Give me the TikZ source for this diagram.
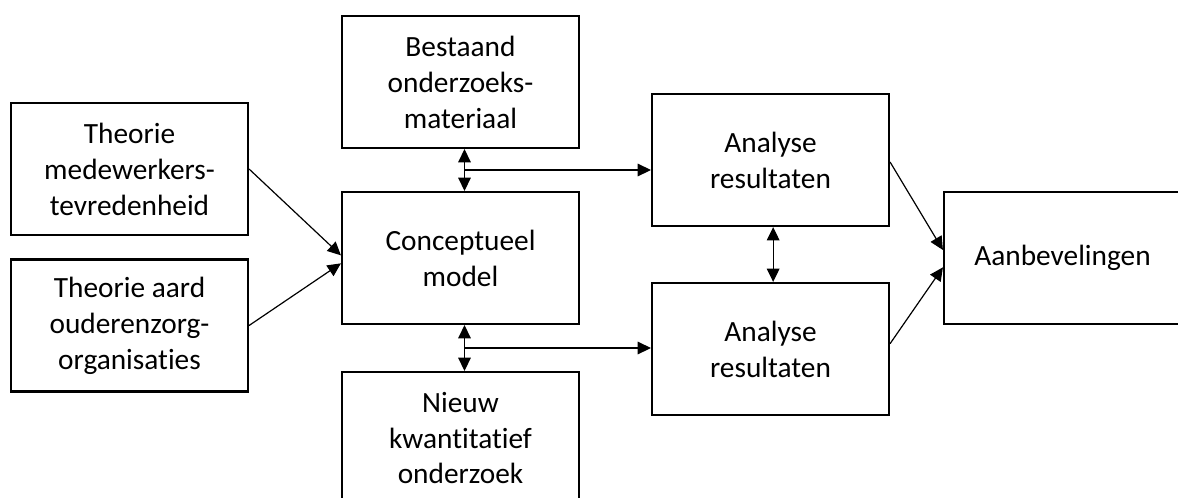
\documentclass[tikz,border=0pt]{standalone}
\usepackage{fontspec}
\setmainfont{Carlito}[Ligatures=NoCommon]
\usetikzlibrary{arrows.meta,positioning,calc}

\tikzset{
  blok/.style={draw, line width=1.6pt, minimum width=177.75pt, minimum height=99pt,
    align=center, inner sep=0pt, font=\fontsize{22}{27}\selectfont},
  pijl/.style={line width=0.9pt, -{Triangle[length=10pt,width=9.5pt]}},
  dubbel/.style={line width=0.9pt, {Triangle[length=10pt,width=9.5pt]}-{Triangle[length=10pt,width=9.5pt]}},
}

\begin{document}
\begin{tikzpicture}[x=0.75pt, y=-0.75pt]
  \clip (0,0) rectangle (1178,497);
  % theorie
  \node[blok] (theo1) at (129.5,169) {Theorie\\medewerkers-\\tevredenheid};
  \node[blok] (theo2) at (129.5,325.5) {Theorie aard\\ouderenzorg-\\organisaties};
  % midden
  \node[blok] (bestaand) at (460.5,82) {Bestaand\\onderzoeks-\\materiaal};
  \node[blok] (concept) at (460.5,258) {Conceptueel\\model};
  \node[blok] (nieuw) at (460.5,438) {Nieuw\\kwantitatief\\onderzoek};
  % analyse
  \node[blok] (ana1) at (770.5,160) {Analyse\\resultaten};
  \node[blok] (ana2) at (770.5,349) {Analyse\\resultaten};
  \node[blok] (aanb) at (1062.5,258) {Aanbevelingen};

  \draw[pijl] (theo1.east) -- ([yshift=2pt]concept.west);
  \draw[pijl] (theo2.east) -- ([yshift=-4pt]concept.west);

  \coordinate (m1) at ($(bestaand.south)!0.5!(concept.north)$);
  \coordinate (m2) at ($(concept.south)!0.5!(nieuw.north)$);
  \draw[dubbel] ([xshift=3pt]bestaand.south) -- ([xshift=3pt]concept.north);
  \draw[dubbel] ([xshift=3pt]concept.south) -- ([xshift=3pt]nieuw.north);
  \draw[pijl] ([xshift=3pt]m1) -- (m1 -| ana1.west);
  \draw[pijl] ([xshift=3pt]m2) -- (m2 -| ana2.west);

  \draw[dubbel] ([xshift=2pt]ana1.south) -- ([xshift=2pt]ana2.north);
  \draw[pijl] ([yshift=-1.5pt]ana1.east) -- ([yshift=6pt]aanb.west);
  \draw[pijl] ([yshift=4pt]ana2.east) -- ([yshift=-7pt]aanb.west);
\end{tikzpicture}
\end{document}
